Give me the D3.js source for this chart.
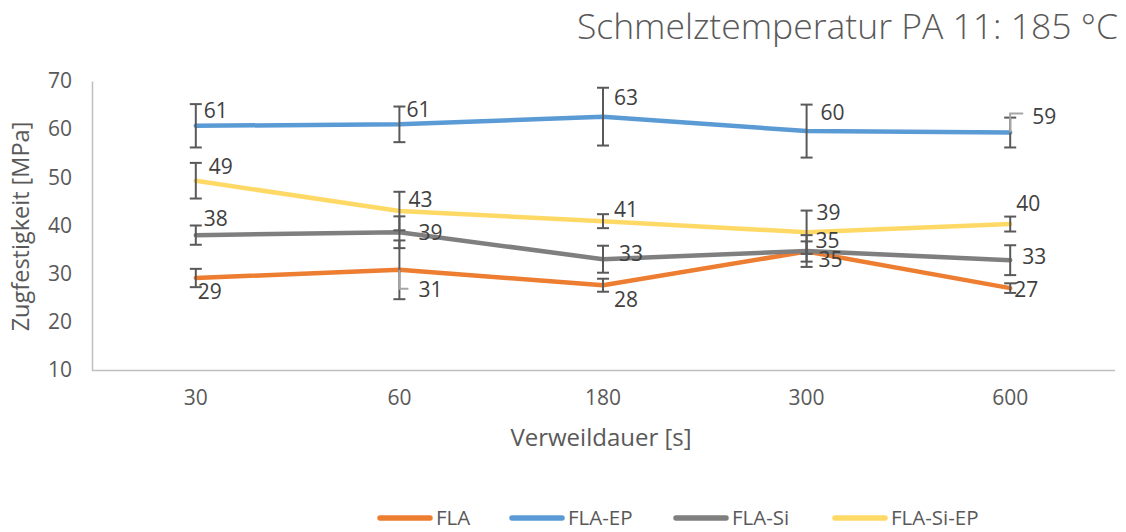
<!DOCTYPE html>
<html>
<head>
<meta charset="utf-8">
<script src="https://cdn.jsdelivr.net/npm/d3@7"></script>
<style>
  html, body { margin: 0; padding: 0; background: #fff; }
  svg { display: block; font-family: "Open Sans", "Noto Sans", sans-serif; }
</style>
</head>
<body>
<svg id="chart" width="1126" height="532"></svg>
<script>
// Verweildauer categories [s]
const categories = ["30", "60", "180", "300", "600"];

// Tensile strength means [MPa]
const fla      = [29.1, 30.8, 27.6, 34.6, 27.0];
const flaEp    = [60.7, 61.0, 62.6, 59.6, 59.3];
const flaSi    = [38.0, 38.6, 33.0, 34.7, 32.8];
const flaSiEp  = [49.3, 43.0, 40.9, 38.6, 40.3];

// Standard deviations [MPa]
const flaErr     = [1.9, 6.1, 1.35, 2.1, 1.0];
const flaEpErr   = [4.5, 3.7, 6.0, 5.5, 3.1];
const flaSiErr   = [2.0, 3.3, 2.8, 3.3, 3.1];
const flaSiEpErr = [3.7, 4.0, 1.45, 4.5, 1.55];

const yTicks = [10, 20, 30, 40, 50, 60, 70];

const seriesNames = ["FLA", "FLA-EP", "FLA-Si", "FLA-Si-EP"];
const colors = ["#ED7D31", "#5B9BD5", "#7F7F7F", "#FFD966"];

const series = [
  { name: seriesNames[0], values: fla,     errors: flaErr,     color: colors[0] },
  { name: seriesNames[1], values: flaEp,   errors: flaEpErr,   color: colors[1] },
  { name: seriesNames[2], values: flaSi,   errors: flaSiErr,   color: colors[2] },
  { name: seriesNames[3], values: flaSiEp, errors: flaSiEpErr, color: colors[3] }
];

// Data label placement relative to each point (px): [dx, dy] of text start / middle
const labelOffsets = {
  "FLA":       [[2, 14], [19, 20], [11, 14], [12, 8], [4, 2]],
  "FLA-EP":    [[8, -15], [7, -15], [11, -19], [14, -18], [22, -16]],
  "FLA-Si":    [[8, -16], [19, 0], [16, -6], [9, -10], [12, -4]],
  "FLA-Si-EP": [[13, -14], [9, -11], [11, -12], [10, -20], [6, -20]]
};
// Leader lines for displaced labels: series, index, corner offset, end offset
const leaders = [
  { name: "FLA", i: 1, corner: [0, 19], end: [9, 19] },
  { name: "FLA-EP", i: 4, corner: [0, -19], end: [13, -19] }
];

const svg = d3.select("#chart");
const plotLeft = 92, plotRight = 1112, plotTop = 81, plotBottom = 370;

const x = d3.scaleBand().domain(categories).range([plotLeft + 2, plotRight]);
const y = d3.scaleLinear().domain([10, 70]).range([plotBottom, plotTop]);
const cx = c => x(c) + x.bandwidth() / 2;

const textColor = "#595959";
const labelColor = "#404040";

// Title
svg.append("text")
  .attr("x", 1118).attr("y", 39)
  .attr("text-anchor", "end")
  .attr("font-size", 35.5).attr("font-weight", 300)
  .attr("fill", textColor)
  .text("Schmelztemperatur PA 11: 185 °C");

// Y axis
const yAxis = svg.append("g")
  .attr("transform", `translate(${plotLeft},0)`)
  .call(d3.axisLeft(y).tickValues(yTicks).tickSize(0).tickPadding(20));
yAxis.select(".domain").attr("stroke", "#BFBFBF").attr("stroke-width", 1.5);
yAxis.selectAll("text").attr("font-size", 21).attr("fill", textColor)
  .attr("font-family", "'Open Sans', 'Noto Sans', sans-serif");

// X axis
const xAxis = svg.append("g")
  .attr("transform", `translate(0,${plotBottom})`)
  .call(d3.axisBottom(x).tickSize(0).tickPadding(20));
xAxis.select(".domain").attr("d", `M${plotLeft},0.5H${plotRight + 3}`)
  .attr("stroke", "#BFBFBF").attr("stroke-width", 1.5);
xAxis.selectAll("text").attr("font-size", 21).attr("fill", textColor)
  .attr("font-family", "'Open Sans', 'Noto Sans', sans-serif");

// Axis titles
svg.append("text")
  .attr("transform", `translate(29,${(plotTop + plotBottom) / 2 + 1}) rotate(-90)`)
  .attr("text-anchor", "middle")
  .attr("font-size", 23.5).attr("fill", textColor)
  .text("Zugfestigkeit [MPa]");

svg.append("text")
  .attr("x", 601).attr("y", 446)
  .attr("text-anchor", "middle")
  .attr("font-size", 24).attr("fill", textColor)
  .text("Verweildauer [s]");

// Lines
const line = d3.line()
  .x((d, i) => cx(categories[i]))
  .y(d => y(d));

svg.append("g").selectAll("path")
  .data(series)
  .join("path")
  .attr("d", s => line(s.values))
  .attr("fill", "none")
  .attr("stroke", s => s.color)
  .attr("stroke-width", 4.5)
  .attr("stroke-linejoin", "round")
  .attr("stroke-linecap", "round");

// Error bars
const eb = svg.append("g").attr("stroke", "#595959").attr("stroke-width", 2);
series.forEach(s => {
  s.values.forEach((v, i) => {
    const px = cx(categories[i]);
    const y0 = y(v + s.errors[i]), y1 = y(v - s.errors[i]);
    eb.append("line").attr("x1", px).attr("x2", px).attr("y1", y0).attr("y2", y1);
    eb.append("line").attr("x1", px - 6).attr("x2", px + 6).attr("y1", y0).attr("y2", y0);
    eb.append("line").attr("x1", px - 6).attr("x2", px + 6).attr("y1", y1).attr("y2", y1);
  });
});

// Leader lines
const lg = svg.append("g").attr("stroke", "#A6A6A6").attr("stroke-width", 2).attr("fill", "none");
leaders.forEach(l => {
  const s = series.find(d => d.name === l.name);
  const px = cx(categories[l.i]), py = y(s.values[l.i]);
  lg.append("path").attr("d",
    `M${px},${py}L${px + l.corner[0]},${py + l.corner[1]}L${px + l.end[0]},${py + l.end[1]}`);
});

// Data labels
const labels = svg.append("g");
series.forEach(s => {
  s.values.forEach((v, i) => {
    const off = labelOffsets[s.name][i];
    labels.append("text")
      .attr("x", cx(categories[i]) + off[0])
      .attr("y", y(v) + off[1])
      .attr("dy", "0.35em")
      .attr("font-size", 21)
      .attr("fill", labelColor)
      .text(Math.round(v));
  });
});

// Legend
const legendX = [377, 509, 673, 832];
const legend = svg.append("g").attr("transform", "translate(0,518)");
series.forEach((s, i) => {
  const g = legend.append("g").attr("transform", `translate(${legendX[i]},0)`);
  g.append("line").attr("x1", 3).attr("x2", 53).attr("y1", 0).attr("y2", 0)
    .attr("stroke", s.color).attr("stroke-width", 5.5).attr("stroke-linecap", "round");
  g.append("text").attr("x", 59).attr("y", 0).attr("dy", "0.35em")
    .attr("font-size", 20.5).attr("fill", textColor).text(s.name);
});
</script>
</body>
</html>
